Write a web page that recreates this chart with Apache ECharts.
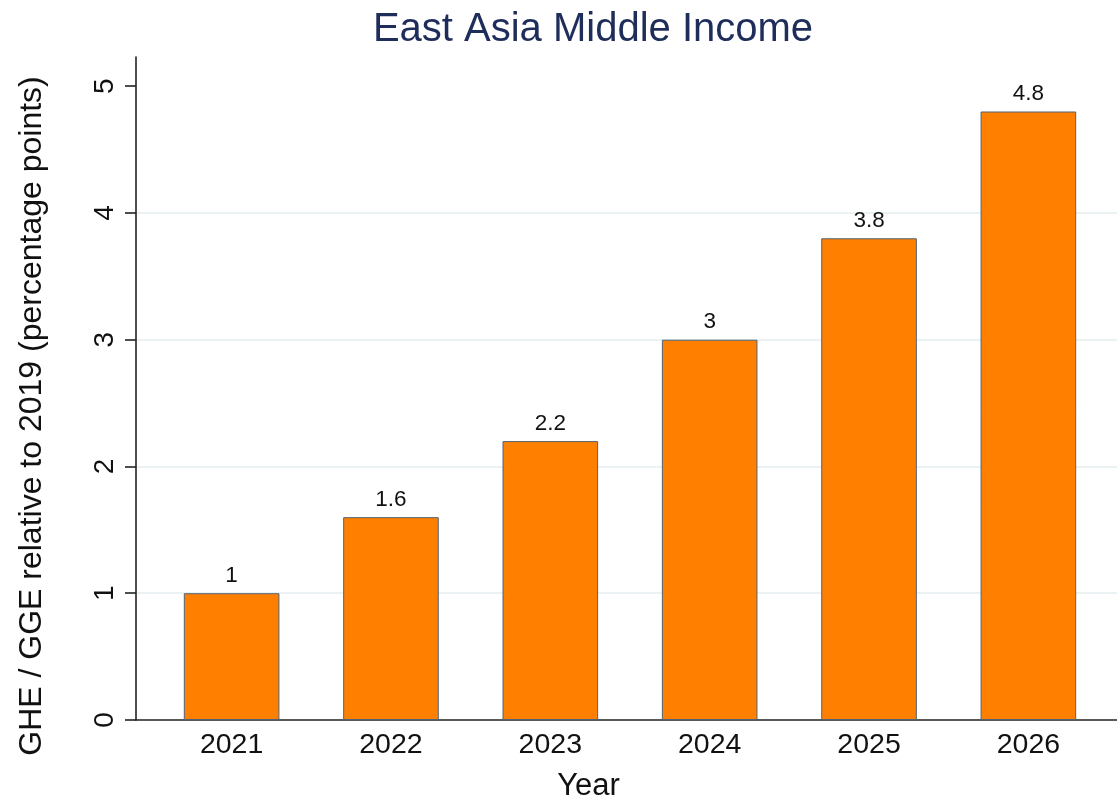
<!DOCTYPE html>
<html>
<head>
<meta charset="utf-8">
<title>East Asia Middle Income</title>
<script src="https://cdn.jsdelivr.net/npm/echarts@6/dist/echarts.min.js"></script>
<style>
  html, body { margin: 0; padding: 0; background: #ffffff; }
  #chart { width: 1117px; height: 800px; }
</style>
</head>
<body>
<div id="chart"></div>
<script>
// Change in GHE / GGE relative to 2019, by year
const years = [2021, 2022, 2023, 2024, 2025, 2026];
const values = [1, 1.6, 2.2, 3, 3.8, 4.8];
const yTicks = [0, 1, 2, 3, 4, 5];

const FONT = 'Liberation Sans, Arial, Helvetica, sans-serif';

const chart = echarts.init(document.getElementById('chart'), null, { renderer: 'canvas' });

chart.setOption({
  backgroundColor: '#ffffff',
  animation: false,
  title: {
    text: 'East Asia Middle Income',
    left: 588,
    top: 5,
    textAlign: 'center',
    textStyle: { color: '#1e2d59', fontSize: 40, fontWeight: 'normal', fontFamily: FONT }
  },
  grid: { left: 136, right: -7, top: 57, bottom: 80, containLabel: false, outerBoundsMode: 'none' },
  xAxis: {
    type: 'value',
    min: 2020.4,
    max: 2026.6,
    name: 'Year',
    nameLocation: 'middle',
    nameGap: 51,
    nameTextStyle: { color: '#111', fontSize: 31, fontFamily: FONT, padding: [0, 83, 0, 0] },
    axisLine: { show: true, onZero: false, lineStyle: { color: '#222', width: 1.6 } },
    axisTick: { show: false },
    splitLine: { show: false },
    axisLabel: {
      customValues: years,
      formatter: v => String(v),
      color: '#111',
      fontSize: 28.5,
      fontFamily: FONT,
      margin: 11
    }
  },
  yAxis: {
    type: 'value',
    min: 0,
    max: 5.23,
    name: 'GHE / GGE relative to 2019 (percentage points)',
    nameLocation: 'middle',
    nameGap: 88,
    nameRotate: 90,
    nameTextStyle: { color: '#111', fontSize: 32, fontFamily: FONT, padding: [0, 55, 0, 0] },
    axisLine: { show: true, lineStyle: { color: '#222', width: 1.6 } },
    axisTick: { show: true, customValues: yTicks, length: 11, lineStyle: { color: '#222', width: 1.6 } },
    axisLabel: {
      customValues: yTicks,
      rotate: 90,
      color: '#111',
      fontSize: 28,
      fontFamily: FONT,
      margin: 17
    },
    splitLine: { show: true, showMinLine: false, showMaxLine: false, lineStyle: { color: '#eaf2f3', width: 2 } }
  },
  series: [{
    type: 'bar',
    data: years.map((y, i) => [y, values[i]]),
    barWidth: '60%',
    itemStyle: { color: '#ff8000', borderColor: '#4f6275', borderWidth: 1 },
    label: {
      show: true,
      position: 'top',
      distance: 6,
      formatter: p => String(p.value[1]),
      color: '#111',
      fontSize: 22.5,
      fontFamily: FONT
    }
  }]
});
</script>
</body>
</html>
